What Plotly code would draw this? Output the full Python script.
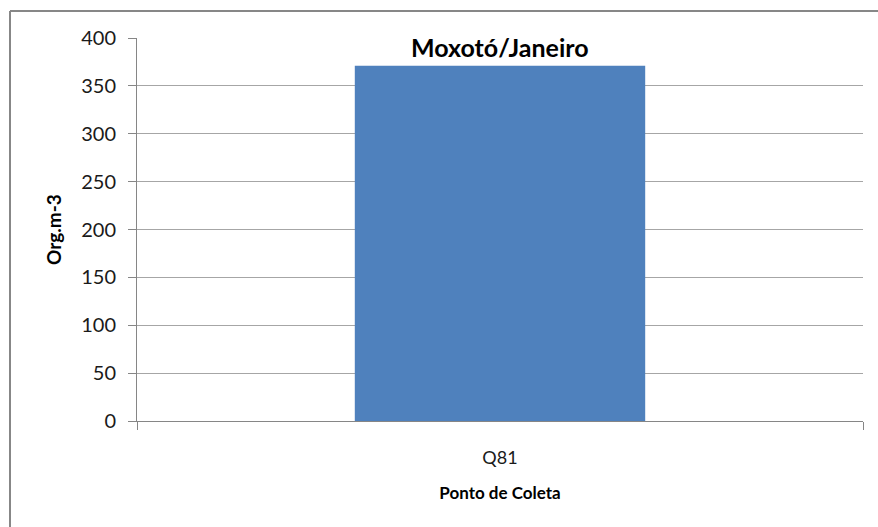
import plotly.graph_objects as go

categories = ["Q81"]
values = [371]
y_ticks = [0, 50, 100, 150, 200, 250, 300, 350, 400]

W, H = 878, 527
L, R, T, B = 137, 15, 38, 106
pw, ph = W - L - R, H - T - B

def px_x(px):
    return (px - L) / pw

def px_y(py):
    return (H - B - py) / ph

FONT = "Lato, 'Open Sans', sans-serif"
BORDER = dict(color="#878787", width=2)

fig = go.Figure()
fig.add_trace(go.Bar(
    x=categories, y=values,
    marker=dict(color="#4F81BD", line=dict(width=0)),
    width=0.4,
    hoverinfo="skip",
))

fig.update_layout(
    width=W, height=H,
    margin=dict(l=L, r=R, t=T, b=B),
    paper_bgcolor="white", plot_bgcolor="white",
    showlegend=False,
    font=dict(family=FONT, color="#000000"),
    xaxis=dict(
        type="category",
        range=[-0.5, 0.5],
        showline=True, linecolor="#868686", linewidth=1,
        ticks="outside", tickson="boundaries", ticklen=8, tickcolor="#868686",
        tickfont=dict(size=18, color="#1a1a1a"),
        ticklabelstandoff=20,
        showgrid=False,
        title=dict(text="<b>Ponto de Coleta</b>", font=dict(size=17), standoff=20),
    ),
    yaxis=dict(
        range=[0, 400],
        tickvals=y_ticks,
        showline=True, linecolor="#868686", linewidth=1,
        ticks="outside", ticklen=8, tickcolor="#868686",
        tickfont=dict(size=20, color="#1a1a1a"),
        ticklabelstandoff=8,
        showgrid=True, gridcolor="#A6A6A6", gridwidth=1,
        zeroline=False,
        title=dict(text="<b>Org.m-3</b>", font=dict(size=19), standoff=14),
    ),
    annotations=[dict(
        text="<b>Moxotó/Janeiro</b>",
        xref="paper", yref="paper",
        x=0.5, y=px_y(47),
        xanchor="center", yanchor="middle",
        showarrow=False,
        font=dict(size=25, color="#000000", family=FONT),
    )],
    shapes=[
        dict(type="line", xref="paper", yref="paper",
             x0=px_x(10), y0=px_y(11), x1=px_x(W), y1=px_y(11),
             line=BORDER, layer="below"),
        dict(type="line", xref="paper", yref="paper",
             x0=px_x(10), y0=px_y(11), x1=px_x(10), y1=px_y(H),
             line=BORDER, layer="below"),
    ],
)

fig.write_html(
    "out.html",
    config={"displayModeBar": False},
    post_script=(
        "document.body.style.margin='0';document.body.style.padding='0';"
        "document.body.style.overflow='hidden';"
        "document.documentElement.style.overflow='hidden';"
    ),
)
